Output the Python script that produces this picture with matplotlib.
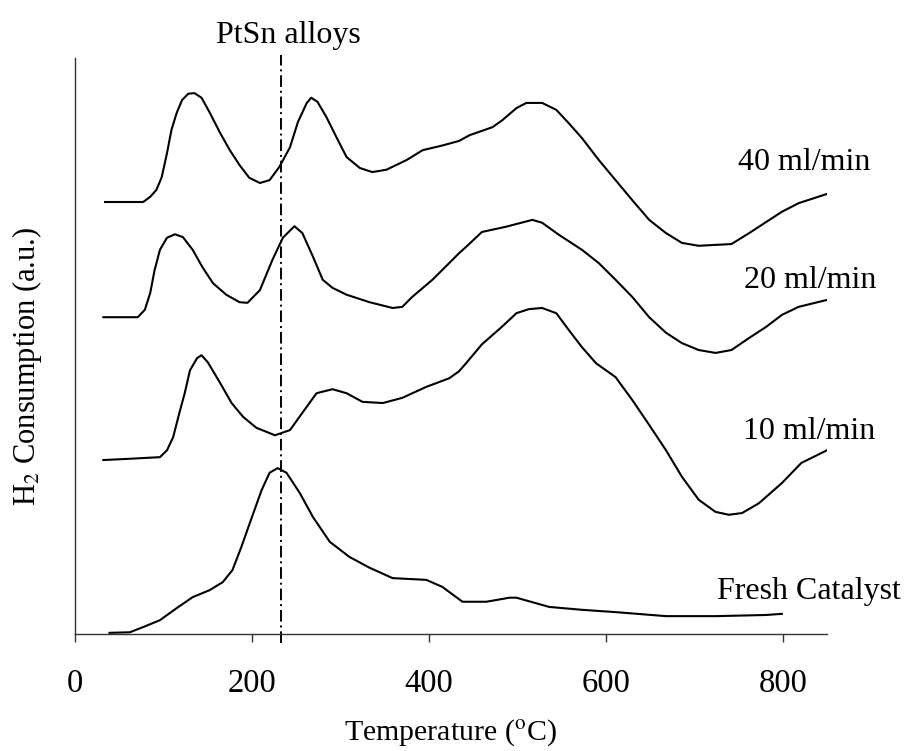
import matplotlib
matplotlib.use("Agg")
import matplotlib.pyplot as plt

# TPR profiles (temperature in degC, H2 consumption in arbitrary units, curves stacked)
t_40 = [34, 77, 85, 92, 98, 104, 109, 115, 121, 128, 135, 143, 152, 164, 175, 186, 197,
        209, 220, 231, 243, 252, 262, 267, 274, 284, 296, 307, 322, 336, 352, 375, 393,
        415, 434, 446, 472, 483, 499, 510, 528, 544, 558, 573, 592, 611, 630, 649, 668,
        686, 705, 742, 762, 781, 799, 818, 850]
h_40 = [75.0, 75.0, 75.9, 77.1, 79.3, 83.5, 87.5, 90.5, 92.7, 93.8, 93.9, 93.1, 90.6,
        87.0, 84.0, 81.4, 79.2, 78.3, 78.8, 81.1, 84.5, 88.9, 92.2, 93.1, 92.4, 89.8,
        86.1, 82.8, 80.9, 80.2, 80.6, 82.3, 84.0, 84.8, 85.6, 86.6, 88.0, 89.2, 91.3,
        92.2, 92.2, 91.0, 88.7, 86.1, 82.3, 78.8, 75.3, 71.9, 69.6, 67.9, 67.4, 67.7,
        69.6, 71.5, 73.3, 74.8, 76.4]

t_20 = [32, 71, 79, 85, 90, 96, 104, 113, 122, 133, 144, 156, 171, 186, 195, 209, 223,
        235, 248, 257, 269, 280, 291, 307, 333, 359, 370, 381, 404, 423, 434, 442, 460,
        487, 517, 528, 547, 573, 592, 611, 630, 649, 668, 686, 705, 724, 742, 762, 781,
        799, 818, 850]
h_20 = [55.0, 55.0, 56.3, 59.2, 63.2, 66.7, 68.8, 69.4, 68.9, 66.7, 63.7, 60.9, 58.9,
        57.6, 57.5, 59.7, 64.9, 68.8, 70.8, 69.6, 65.5, 61.5, 60.1, 58.9, 57.6, 56.6,
        56.8, 58.5, 61.5, 64.4, 66.1, 67.2, 69.8, 70.7, 71.9, 71.4, 69.3, 66.7, 64.4,
        61.5, 58.5, 55.0, 52.3, 50.5, 49.3, 48.8, 49.3, 51.4, 53.3, 55.4, 56.8, 58.0]

t_10 = [32, 59, 96, 104, 111, 118, 124, 130, 138, 143, 150, 164, 177, 190, 205, 226,
        243, 257, 273, 291, 307, 325, 348, 370, 397, 423, 434, 442, 460, 483, 499, 513,
        528, 544, 558, 573, 589, 611, 630, 649, 668, 686, 705, 724, 739, 754, 773, 799,
        821, 850]
h_10 = [30.2, 30.4, 30.7, 31.9, 34.2, 38.4, 41.8, 45.8, 47.9, 48.4, 47.2, 43.6, 40.1,
        37.7, 35.8, 34.5, 35.4, 38.4, 41.8, 42.5, 41.8, 40.3, 40.1, 41.0, 42.9, 44.4,
        45.6, 47.0, 50.3, 53.4, 55.7, 56.4, 56.6, 55.7, 52.8, 49.8, 47.0, 44.6, 40.6,
        36.3, 31.9, 27.3, 23.3, 21.2, 20.7, 21.0, 22.7, 26.2, 29.7, 31.9]

t_fresh = [39, 62, 77, 96, 115, 133, 152, 167, 178, 188, 200, 211, 220, 229, 239, 254,
           269, 288, 310, 333, 359, 397, 415, 438, 465, 491, 499, 536, 573, 611, 668,
           724, 781, 799]
h_fresh = [0.2, 0.3, 1.2, 2.4, 4.5, 6.4, 7.6, 9.0, 11.1, 15.1, 20.3, 25.0, 28.0, 28.8,
           28.0, 24.5, 20.3, 16.0, 13.4, 11.5, 9.7, 9.4, 8.2, 5.6, 5.6, 6.3, 6.3, 4.7,
           4.2, 3.8, 3.1, 3.1, 3.3, 3.5]

labels = ["40 ml/min", "20 ml/min", "10 ml/min", "Fresh Catalyst"]
label_pos = [(899, 80.6), (906, 60.1), (905, 33.9), (933, 6.1)]
alloy_temp = 233

plt.rcParams['font.family'] = ['Liberation Serif', 'DejaVu Serif']
plt.rcParams['mathtext.fontset'] = 'stix'

fig = plt.figure(figsize=(9.07, 7.51), dpi=100)
ax = fig.add_axes([75 / 907, 117 / 751, 752 / 907, 576 / 751])

for t, h in [(t_40, h_40), (t_20, h_20), (t_10, h_10), (t_fresh, h_fresh)]:
    ax.plot(t, h, color='black', lw=1.5, solid_joinstyle='round')

for text, (x, y) in zip(labels, label_pos):
    ax.text(x, y, text, ha='right', va='baseline', fontsize=23, clip_on=False)

# PtSn alloy reduction temperature
ax.axvline(alloy_temp, ymin=-0.016, ymax=1.005, color='black', lw=1.4,
           linestyle=(0, (6, 2, 1, 2)), clip_on=False)
ax.text(241, 102.6, "PtSn alloys", ha='center', va='baseline', fontsize=23, clip_on=False)

ax.set_xlim(0, 850)
ax.set_ylim(0, 100)
ax.set_xticks([0, 200, 400, 600, 800])
ax.set_yticks([])
ax.tick_params(axis='x', direction='out', length=6, width=1, pad=19,
               labelsize=23.5, color='#333333')
for side in ['top', 'right']:
    ax.spines[side].set_visible(False)
for side in ['left', 'bottom']:
    ax.spines[side].set_linewidth(1.0)
    ax.spines[side].set_color('#333333')

fig.text(450 / 907, 1 - 733 / 751, "Temperature ($^{\\mathrm{o}}$C)", ha='center',
         va='center', fontsize=21.5)
fig.text(27 / 907, 1 - 366 / 751, "H$_2$ Consumption (a.u.)", ha='center',
         va='center', rotation=90, fontsize=22)

fig.savefig("out.png", dpi=100)
